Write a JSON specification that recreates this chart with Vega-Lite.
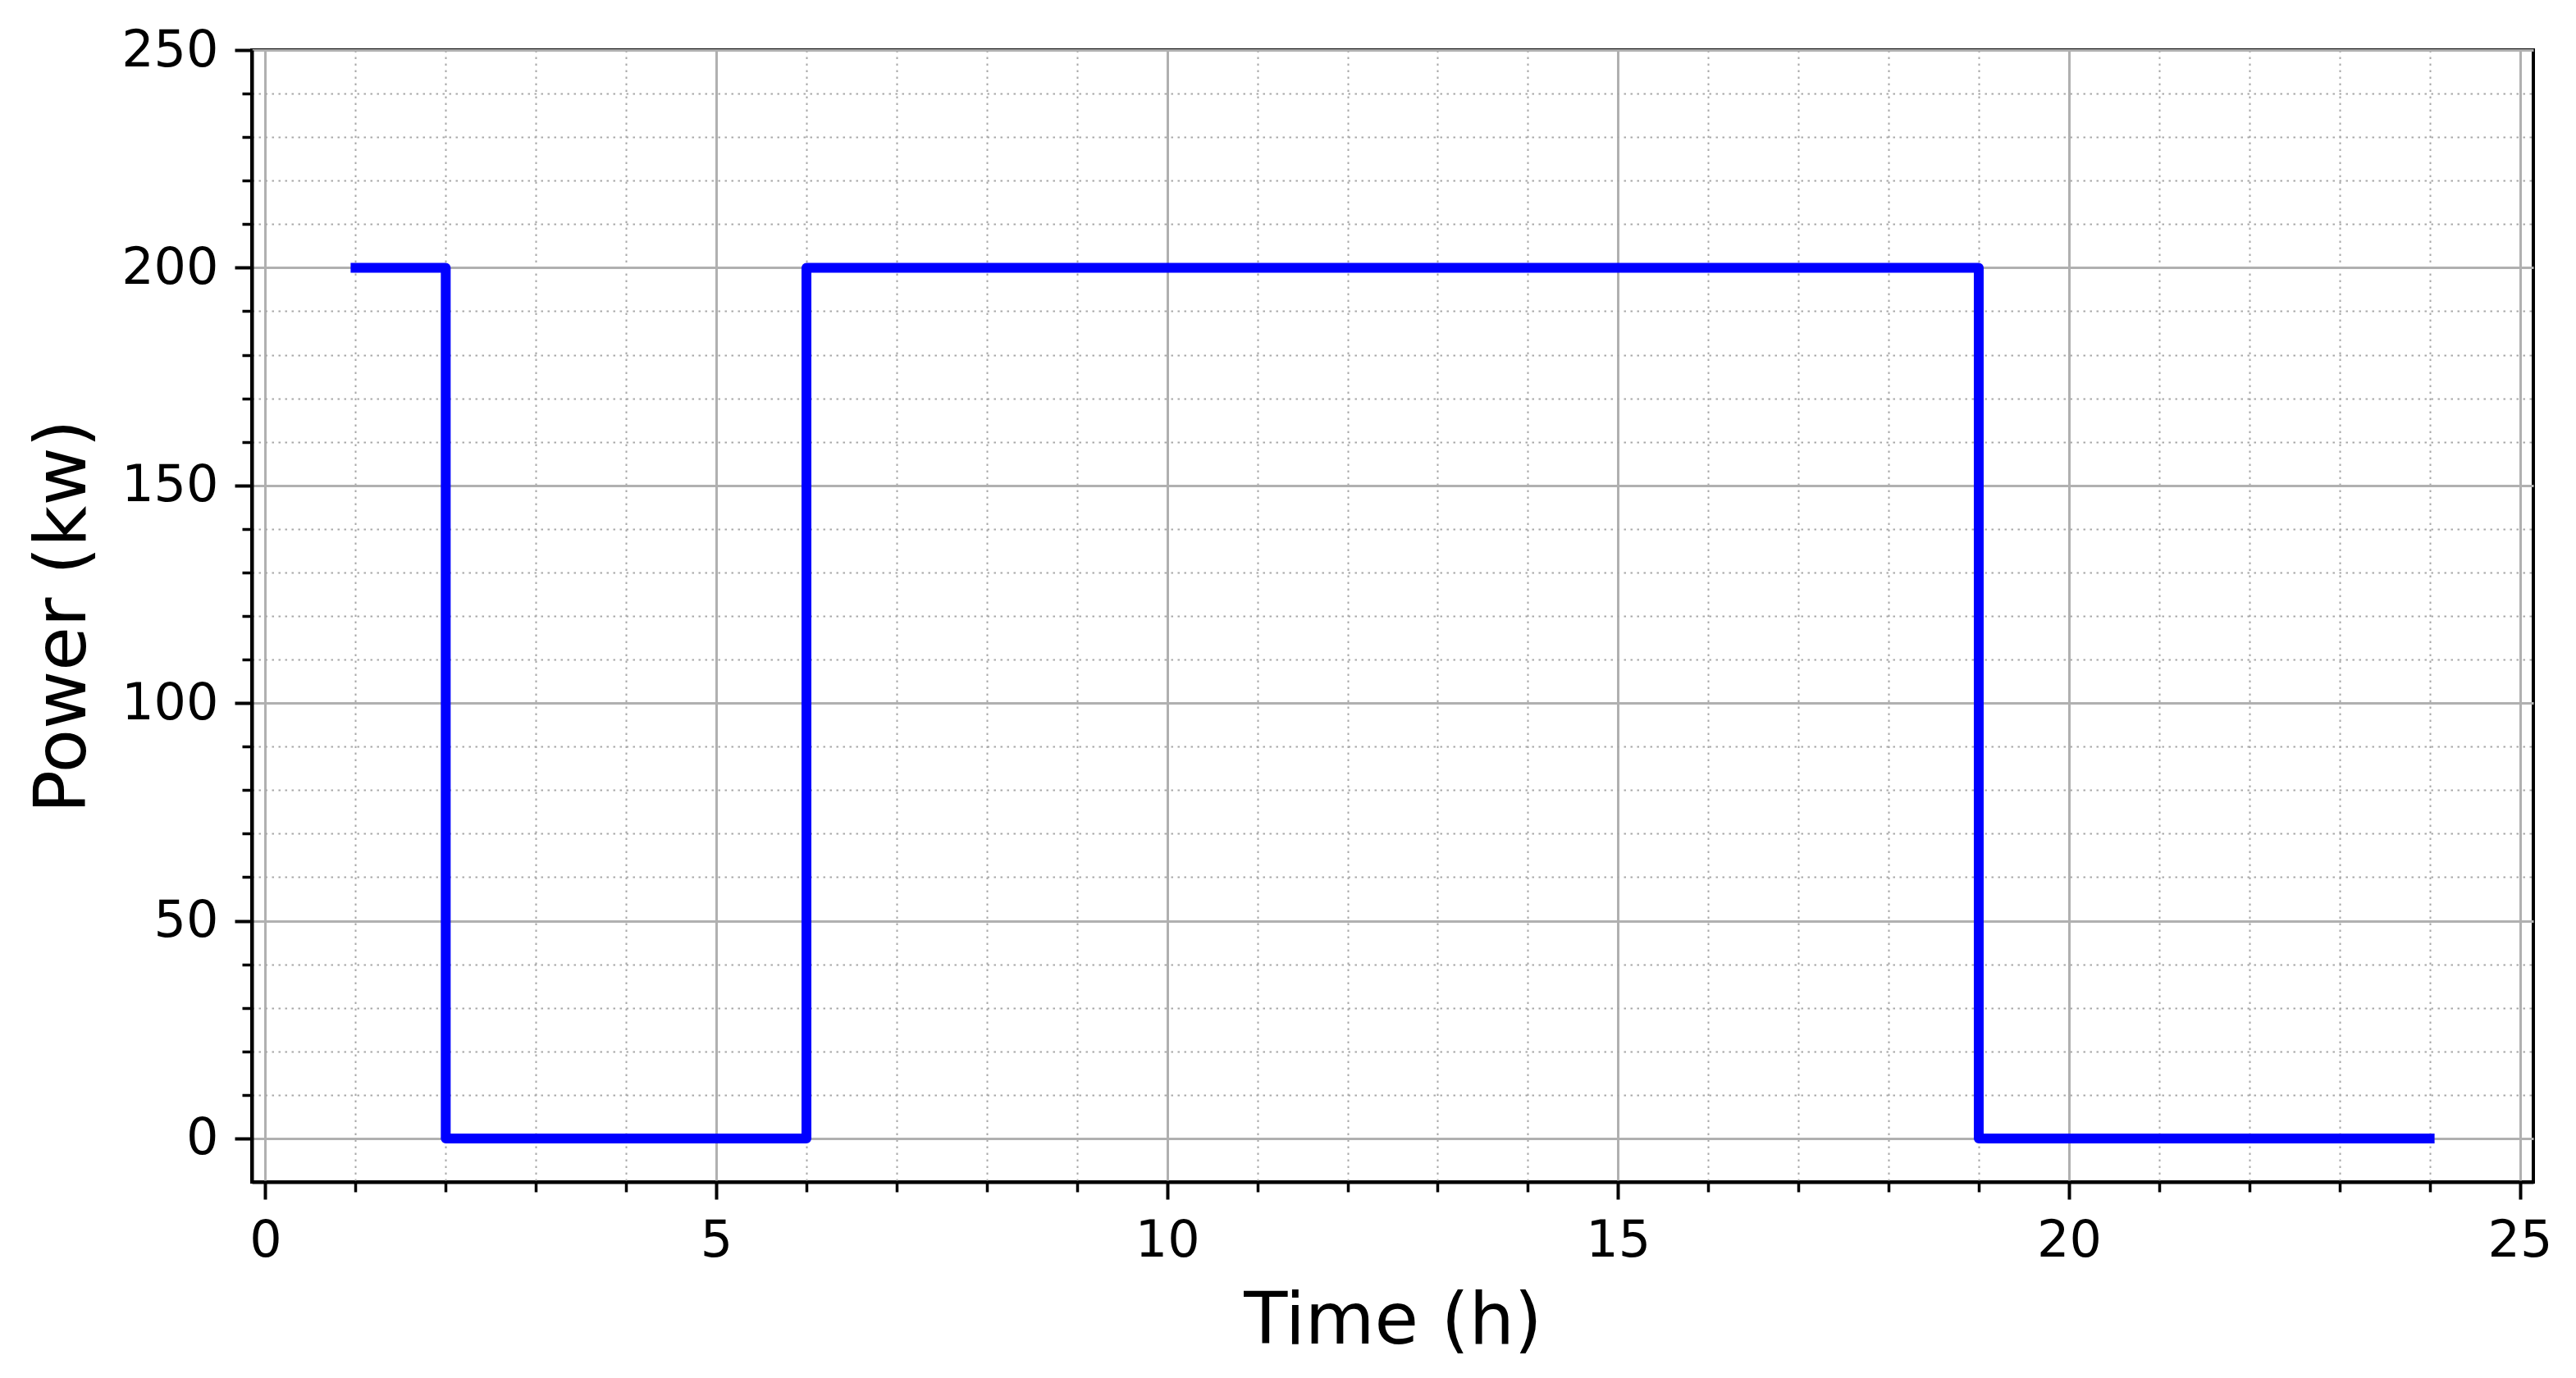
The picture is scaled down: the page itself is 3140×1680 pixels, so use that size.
{
  "$schema": "https://vega.github.io/schema/vega-lite/v6.json",
  "width": 2781,
  "height": 1380,
  "autosize": {"type": "none"},
  "padding": {"left": 307, "top": 61, "right": 52, "bottom": 239},
  "background": "white",
  "config": {
    "view": {"stroke": "black", "strokeWidth": 4},
    "font": "DejaVu Sans"
  },
  "data": {
    "values": [
      {"t": 1, "p": 200}, {"t": 2, "p": 0}, {"t": 3, "p": 0}, {"t": 4, "p": 0},
      {"t": 5, "p": 0}, {"t": 6, "p": 200}, {"t": 7, "p": 200}, {"t": 8, "p": 200},
      {"t": 9, "p": 200}, {"t": 10, "p": 200}, {"t": 11, "p": 200}, {"t": 12, "p": 200},
      {"t": 13, "p": 200}, {"t": 14, "p": 200}, {"t": 15, "p": 200}, {"t": 16, "p": 200},
      {"t": 17, "p": 200}, {"t": 18, "p": 200}, {"t": 19, "p": 0}, {"t": 20, "p": 0},
      {"t": 21, "p": 0}, {"t": 22, "p": 0}, {"t": 23, "p": 0}, {"t": 24, "p": 0}
    ]
  },
  "layer": [
    {
      "mark": {"type": "line", "opacity": 0},
      "encoding": {
        "x": {
          "field": "t", "type": "quantitative",
          "scale": {"domain": [-0.15, 25.15], "nice": false, "zero": false},
          "axis": {
            "orient": "bottom", "title": null, "labels": false, "domain": false,
            "values": [1,2,3,4,6,7,8,9,11,12,13,14,16,17,18,19,21,22,23,24],
            "grid": true, "gridColor": "#a8a8a8", "gridWidth": 2, "gridDash": [2.5, 5.5],
            "ticks": true, "tickSize": 12, "tickWidth": 3.5, "tickColor": "black"
          }
        },
        "y": {
          "field": "p", "type": "quantitative",
          "scale": {"domain": [-10, 250], "nice": false, "zero": false},
          "axis": {
            "orient": "left", "title": null, "labels": false, "domain": false,
            "values": [10,20,30,40,60,70,80,90,110,120,130,140,160,170,180,190,210,220,230,240],
            "grid": true, "gridColor": "#a8a8a8", "gridWidth": 2, "gridDash": [2.5, 5.5],
            "ticks": true, "tickSize": 12, "tickWidth": 3.5, "tickColor": "black"
          }
        }
      }
    },
    {
      "mark": {
        "type": "line", "color": "#0000ff", "strokeWidth": 12,
        "interpolate": "step-after", "strokeCap": "square", "strokeJoin": "round"
      },
      "encoding": {
        "x": {
          "field": "t", "type": "quantitative",
          "axis": {
            "orient": "bottom", "title": "Time (h)",
            "values": [0, 5, 10, 15, 20, 25],
            "grid": true, "gridColor": "#b0b0b0", "gridWidth": 3,
            "domain": true, "domainColor": "black", "domainWidth": 4,
            "ticks": true, "tickSize": 21, "tickWidth": 4, "tickColor": "black",
            "labelFont": "DejaVu Sans", "labelFontSize": 62, "labelColor": "black",
            "labelPadding": 20, "labelFlush": false, "labelOverlap": false,
            "titleFont": "DejaVu Sans", "titleFontSize": 87, "titleFontWeight": "normal",
            "titleColor": "black", "titleBaseline": "alphabetic", "titleY": 196
          }
        },
        "y": {
          "field": "p", "type": "quantitative",
          "axis": {
            "orient": "left", "title": "Power (kw)",
            "values": [0, 50, 100, 150, 200, 250],
            "grid": true, "gridColor": "#b0b0b0", "gridWidth": 3,
            "domain": true, "domainColor": "black", "domainWidth": 4,
            "ticks": true, "tickSize": 21, "tickWidth": 4, "tickColor": "black",
            "labelFont": "DejaVu Sans", "labelFontSize": 62, "labelColor": "black",
            "labelPadding": 20, "labelFlush": false, "labelOverlap": false,
            "titleFont": "DejaVu Sans", "titleFontSize": 87, "titleFontWeight": "normal",
            "titleColor": "black", "titleBaseline": "alphabetic", "titleX": -204
          }
        }
      }
    }
  ],
  "resolve": {"axis": {"x": "independent", "y": "independent"}}
}
